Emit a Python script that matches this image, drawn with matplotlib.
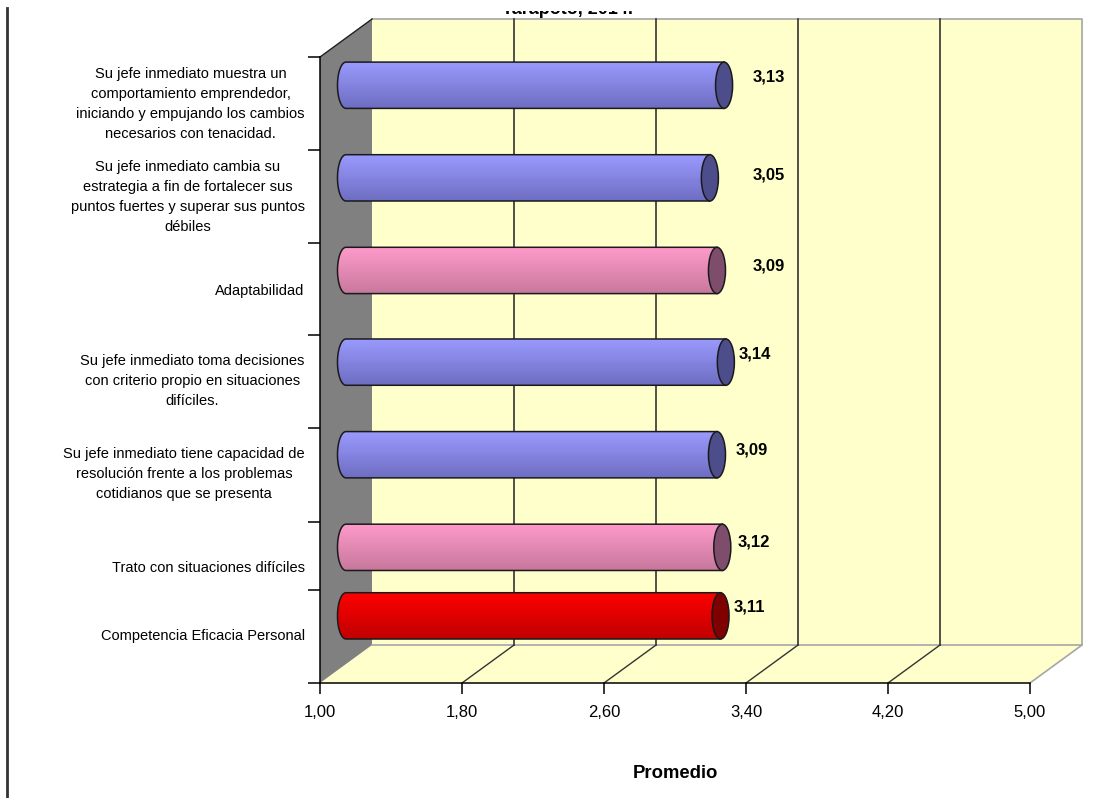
import numpy as np
import matplotlib.pyplot as plt
from matplotlib.patches import Rectangle, Polygon, Ellipse, PathPatch
from matplotlib.path import Path
from matplotlib.colors import LinearSegmentedColormap
from matplotlib.lines import Line2D
from matplotlib.transforms import ScaledTranslation

plt.rcParams['font.family'] = ['Liberation Sans', 'DejaVu Sans']

# Ítems evaluados (de arriba hacia abajo) y su promedio
categorias = [
    "Su jefe inmediato muestra un\ncomportamiento emprendedor,\niniciando y empujando los cambios\nnecesarios con tenacidad.",
    "Su jefe inmediato cambia su\nestrategia a fin de fortalecer sus\npuntos fuertes y superar sus puntos\ndébiles",
    "Adaptabilidad",
    "Su jefe inmediato toma decisiones\ncon criterio propio en situaciones\ndifíciles.",
    "Su jefe inmediato tiene capacidad de\nresolución frente a los problemas\ncotidianos que se presenta",
    "Trato con situaciones difíciles",
    "Competencia Eficacia Personal",
]
promedios = [3.13, 3.05, 3.09, 3.14, 3.09, 3.12, 3.11]
tipos = ['item', 'item', 'dim', 'item', 'item', 'dim', 'total']
ticks_x = [1.00, 1.80, 2.60, 3.40, 4.20, 5.00]

# posiciones en el eje vertical
ypos = [6.25, 5.25, 4.25, 3.26, 2.26, 1.26, 0.52]
bordes = [0, 1.0, 1.74, 2.75, 3.76, 4.75, 5.76, 6.76]
ytop = 6.76
px, py = 0.293, 0.41      # profundidad del efecto 3D
alto = 0.5                # grosor del cilindro
a = 0.048                 # semieje horizontal de las tapas

colores = {
    'item': ('#9b9bff', '#6d6dc2', '#4d4d8c'),
    'dim': ('#ff9acb', '#c7789c', '#7e4d6c'),
    'total': ('#ff0000', '#c00000', '#7f0000'),
}
# desplazamiento de las etiquetas de valor (px)
etq_dx = [20, 34, 27, 4, 10, 7, 5]
etq_dy = [8, 3, 4, 8, 5, 5, 9]

fig = plt.figure(figsize=(11.11, 7.98), dpi=100)
ax = fig.add_axes([320 / 1111, 115 / 798, 710 / 1111, 626 / 798])
ax.set_xlim(1, 5)
ax.set_ylim(0, ytop)

# paredes y piso
amarillo = '#ffffcc'
ax.add_patch(Rectangle((1 + px, py), 4, ytop, fc=amarillo, ec='none', zorder=0, clip_on=False))
ax.add_patch(Polygon([(1, 0), (5, 0), (5 + px, py), (1 + px, py)], closed=True,
                     fc=amarillo, ec='none', zorder=0, clip_on=False))
ax.add_patch(Polygon([(1, 0), (1 + px, py), (1 + px, ytop + py), (1, ytop)], closed=True,
                     fc='#808080', ec='none', zorder=1, clip_on=False))
ax.plot([1, 1 + px], [ytop, ytop + py], color='#202020', lw=1, zorder=1.5, clip_on=False)

gris = '#a6a6a6'
ax.plot([1 + px, 5 + px, 5 + px, 1 + px], [ytop + py, ytop + py, py, py],
        color=gris, lw=1.2, zorder=1, clip_on=False)
ax.plot([5, 5 + px], [0, py], color=gris, lw=1.2, zorder=1, clip_on=False)
for xt in ticks_x[1:-1]:
    ax.plot([xt + px, xt + px], [py, ytop + py], color='#333333', lw=1.2, zorder=1, clip_on=False)
    ax.plot([xt, xt + px], [0, py], color='#333333', lw=1, zorder=1, clip_on=False)

# cilindros
yb = [p + py / 2 - alto / 2 for p in ypos]
barras = ax.barh(yb, [v - 1 for v in promedios], left=1 + px / 2, height=alto,
                 align='edge', color='none', edgecolor='none', zorder=3)

grad = np.linspace(0, 1, 128).reshape(-1, 1)
t = np.linspace(np.pi / 2, 3 * np.pi / 2, 40)
for i, (b, tp, v) in enumerate(zip(barras, tipos, promedios)):
    x, y, w, h = b.get_x(), b.get_y(), b.get_width(), b.get_height()
    c_sup, c_inf, c_tapa = colores[tp]
    yc = y + h / 2
    arco = np.column_stack([x + a * np.cos(t), yc + h / 2 * np.sin(t)])
    verts = np.vstack([[[x + w, y + h]], arco, [[x + w, y], [x + w, y + h]]])
    cuerpo = PathPatch(Path(verts, closed=True), fc='none', ec='#1a1a1a', lw=1.1, zorder=3.2)
    ax.add_patch(cuerpo)
    cmap = LinearSegmentedColormap.from_list('g', [c_inf, c_sup])
    im = ax.imshow(grad, extent=(x - a, x + w, y, y + h), origin='lower', cmap=cmap,
                   aspect='auto', interpolation='bilinear', zorder=3.1)
    im.set_clip_path(cuerpo)
    ax.add_patch(Ellipse((x + w, yc), 2 * a, h, fc=c_tapa, ec='#1a1a1a', lw=1.1, zorder=3.3))
    ax.annotate(f"{v:.2f}".replace('.', ','), xy=(x + w + a, yc),
                xytext=(etq_dx[i] * 0.72, etq_dy[i] * 0.72), textcoords='offset points',
                ha='left', va='center', fontsize=12, fontweight='bold', zorder=5)

ax.set_xlim(1, 5)
ax.set_ylim(0, ytop)

# ejes
for s in ['top', 'right']:
    ax.spines[s].set_visible(False)
for s in ['left', 'bottom']:
    ax.spines[s].set_color('black')
    ax.spines[s].set_linewidth(1.1)
    ax.spines[s].set_zorder(2)

ax.set_xticks(ticks_x, [f"{x:.2f}".replace('.', ',') for x in ticks_x])
ax.tick_params(axis='x', length=8, width=1.1, pad=8, labelsize=12)
ax.set_yticks(bordes, [''] * len(bordes))
ax.tick_params(axis='y', which='major', length=8.6, width=1.1)
ax.set_yticks(ypos, categorias, minor=True)
ax.tick_params(axis='y', which='minor', length=0, pad=11, labelsize=10.5)
subir = ScaledTranslation(0, 4.5 / 100, fig.dpi_scale_trans)
for lab in ax.get_yticklabels(minor=True):
    lab.set_multialignment('center')
    lab.set_linespacing(1.55)
    if '\n' in lab.get_text():
        lab.set_transform(lab.get_transform() + subir)

ax.set_xlabel('Promedio', fontsize=13.3, fontweight='bold')
ax.xaxis.set_label_coords(0.5, -0.144)
ax.xaxis.label.set_va('center')

# título, recortado por el borde superior
fig.text(568 / 1111, 1 - 14 / 798, 'Tarapoto, 2014.', ha='center', va='baseline',
         fontsize=13, fontweight='bold', zorder=1)
fig.add_artist(Rectangle((400 / 1111, 1 - 10.5 / 798), 400 / 1111, 10.5 / 798,
                         transform=fig.transFigure, fc='white', ec='none', zorder=2))

fig.add_artist(Line2D([7 / 1111, 7 / 1111], [0, 1 - 8 / 798], color='#333333', lw=2))

fig.savefig('out.png', dpi=100)
